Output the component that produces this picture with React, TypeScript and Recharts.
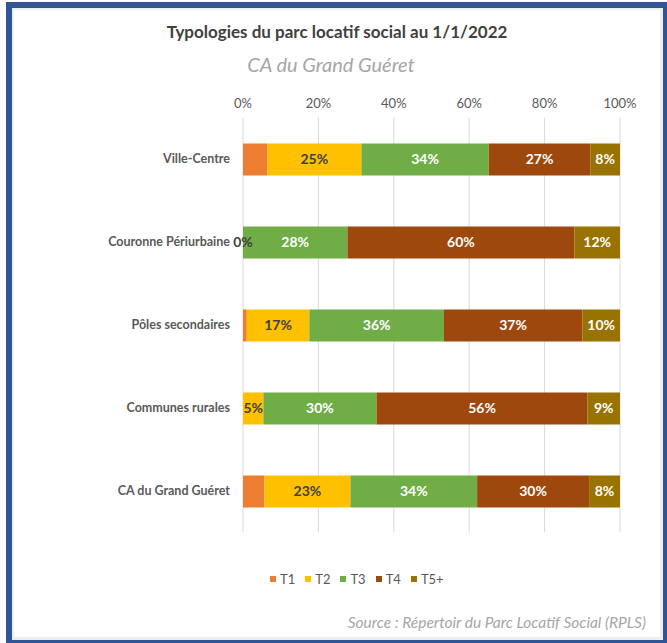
import { BarChart, Bar, XAxis, YAxis, CartesianGrid, LabelList } from 'recharts';

// Parts of each housing type (%)
const categories = [
  'Ville-Centre',
  'Couronne Périurbaine',
  'Pôles secondaires',
  'Communes rurales',
  'CA du Grand Guéret',
];
const t1 = [6.4, 0, 1.0, 0, 5.7];
const t2 = [25.0, 0, 16.6, 5.4, 22.8];
const t3 = [33.8, 27.7, 35.7, 30.0, 33.6];
const t4 = [26.9, 60.2, 36.7, 56.0, 29.7];
const t5 = [7.9, 12.1, 10.0, 8.6, 8.2];
const xTicks = [0, 20, 40, 60, 80, 100];

const title = 'Typologies du parc locatif social au 1/1/2022';
const subtitle = 'CA du Grand Guéret';
const source = 'Source : Répertoir du Parc Locatif Social (RPLS)';

const FONT = 'Lato, "Open Sans", sans-serif';

const series = [
  { key: 't1', name: 'T1', color: '#ED7D31', labelColor: '', showLabel: false },
  { key: 't2', name: 'T2', color: '#FFC000', labelColor: '#404040', showLabel: true },
  { key: 't3', name: 'T3', color: '#70AD47', labelColor: '#ffffff', showLabel: true },
  { key: 't4', name: 'T4', color: '#9E480E', labelColor: '#ffffff', showLabel: true },
  { key: 't5', name: 'T5+', color: '#997300', labelColor: '#ffffff', showLabel: true },
];

const data = categories.map((name, i) => ({
  name,
  t1: t1[i],
  t2: t2[i],
  t3: t3[i],
  t4: t4[i],
  t5: t5[i],
}));

const pct = (v: unknown) => `${Math.round(Number(v))}%`;

// category tick drawn as a single line (no wrapping)
function CategoryTick(props: any) {
  const { x, y, payload } = props;
  return (
    <text
      x={x}
      y={y}
      dy="0.355em"
      textAnchor="end"
      fill="#595959"
      fontSize={12.5}
      fontWeight="bold"
      fontFamily={FONT}
    >
      {payload.value}
    </text>
  );
}

function labelText(cx: number, cy: number, color: string, value: unknown) {
  return (
    <text
      x={cx}
      y={cy}
      dy="0.355em"
      textAnchor="middle"
      fill={color}
      fontSize={14}
      fontWeight="bold"
      fontFamily={FONT}
    >
      {pct(value)}
    </text>
  );
}

function makeLabel(color: string) {
  return (props: any) => {
    const { x, y, width, height, value } = props;
    if (value == null) return null;
    return labelText(Number(x) + Number(width) / 2, Number(y) + Number(height) / 2, color, value);
  };
}

// zero-width segments get no label from their own bar; draw "0%" at the next bar's left edge
function makeZeroLabel(color: string) {
  return (props: any) => {
    const { x, y, height, value } = props;
    if (value !== 0) return null;
    return labelText(Number(x), Number(y) + Number(height) / 2, color, value);
  };
}

export default function App() {
  return (
    <div style={{ position: 'absolute', left: 0, top: 0, width: 667, height: 643, fontFamily: FONT }}>
      {/* blue frame with the light inner edge */}
      <div
        style={{
          position: 'absolute',
          left: 6,
          top: 2,
          width: 661,
          height: 641,
          boxSizing: 'border-box',
          borderStyle: 'solid',
          borderColor: '#2F5597',
          borderWidth: '6px 4px 3px 6px',
          background: '#ffffff',
        }}
      >
        <div
          style={{
            position: 'absolute',
            inset: 0,
            borderStyle: 'solid',
            borderColor: '#eeeeee',
            borderWidth: '2px 3px 3px 2px',
          }}
        />
      </div>

      <div
        style={{
          position: 'absolute',
          left: 0,
          width: 674,
          top: 21,
          textAlign: 'center',
          fontSize: 17,
          lineHeight: '22px',
          fontWeight: 'bold',
          color: '#404040',
        }}
      >
        {title}
      </div>
      <div
        style={{
          position: 'absolute',
          left: 0,
          width: 662,
          top: 52,
          textAlign: 'center',
          fontSize: 20,
          lineHeight: '24px',
          fontStyle: 'italic',
          color: '#a6a6a6',
        }}
      >
        {subtitle}
      </div>

      <div style={{ position: 'absolute', left: 0, top: 0 }}>
        <BarChart
          width={667}
          height={643}
          layout="vertical"
          data={data}
          margin={{ top: 97.5, right: 47, bottom: 110.5, left: 103 }}
        >
          <CartesianGrid horizontal={false} stroke="#d9d9d9" />
          <XAxis
            type="number"
            orientation="top"
            domain={[0, 100]}
            ticks={xTicks}
            tickFormatter={(v) => `${v}%`}
            axisLine={false}
            tickLine={false}
            tickSize={0}
            tickMargin={10}
            height={20}
            tick={{ fill: '#595959', fontSize: 13, fontFamily: FONT }}
          />
          <YAxis
            type="category"
            dataKey="name"
            width={140}
            axisLine={false}
            tickLine={false}
            tickSize={0}
            tickMargin={13}
            tick={<CategoryTick />}
          />
          {series.map((s, i) => {
            const prev = i > 0 ? series[i - 1] : null;
            return (
              <Bar
                key={s.key}
                dataKey={s.key}
                name={s.name}
                stackId="a"
                fill={s.color}
                barSize={32}
                isAnimationActive={false}
              >
                {s.showLabel && <LabelList dataKey={s.key} content={makeLabel(s.labelColor)} />}
                {prev && prev.showLabel && (
                  <LabelList dataKey={prev.key} content={makeZeroLabel(prev.labelColor)} />
                )}
              </Bar>
            );
          })}
        </BarChart>
      </div>

      {/* legend */}
      <div
        style={{
          position: 'absolute',
          left: 270,
          top: 571,
          display: 'flex',
          alignItems: 'center',
          fontSize: 13,
          color: '#595959',
          lineHeight: '16px',
        }}
      >
        {series.map((s) => (
          <div key={s.key} style={{ display: 'flex', alignItems: 'center', marginRight: 10 }}>
            <span style={{ width: 6, height: 6, background: s.color, marginRight: 4, display: 'inline-block' }} />
            <span>{s.name}</span>
          </div>
        ))}
      </div>

      <div
        style={{
          position: 'absolute',
          right: 21,
          top: 612,
          fontSize: 15.5,
          lineHeight: '20px',
          fontStyle: 'italic',
          color: '#a6a6a6',
          whiteSpace: 'nowrap',
        }}
      >
        {source}
      </div>
    </div>
  );
}
